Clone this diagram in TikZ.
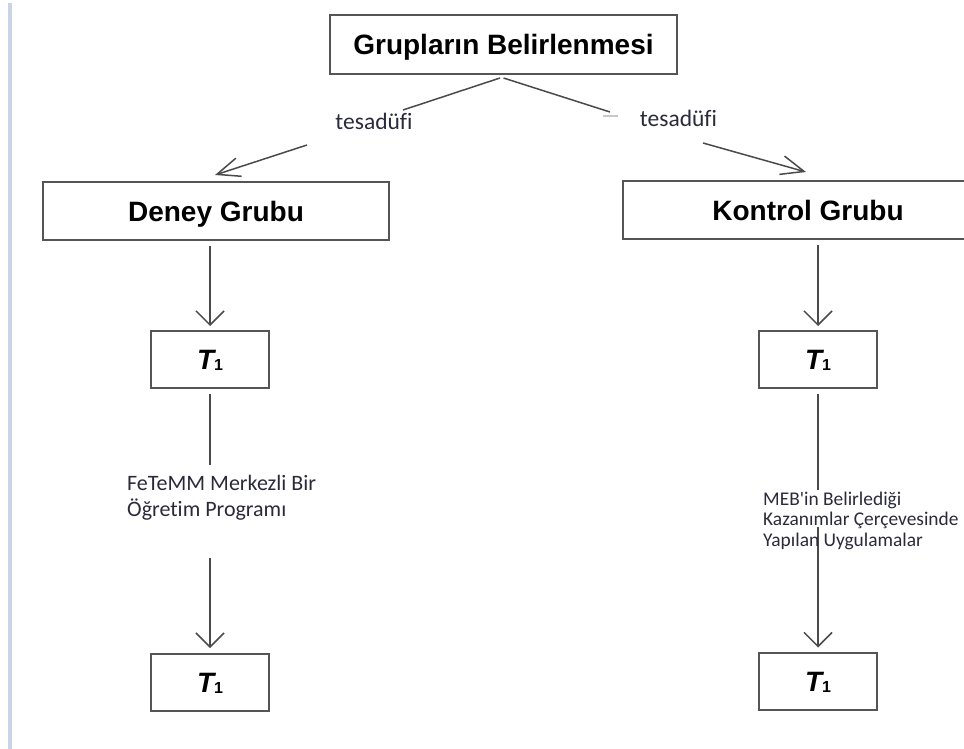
\documentclass[tikz,border=0pt]{standalone}
\usepackage{fontspec}
\setmainfont{Liberation Sans}
\newfontfamily\notefont[Ligatures=NoCommon]{Carlito}
\usetikzlibrary{arrows.meta}
\definecolor{linegray}{HTML}{4A4A4A}
\definecolor{boxgray}{HTML}{555555}
\definecolor{marginblue}{HTML}{CBD3E6}
\definecolor{notetext}{HTML}{2A2A3A}
\definecolor{faintgray}{HTML}{C8C8C8}
% T with subscript 1, as printed in the measurement boxes
\newcommand\Tsub{{\fontsize{28}{28}\selectfont\bfseries\itshape T}\raisebox{-1pt}{\fontsize{16}{16}\selectfont\bfseries 1}}
\begin{document}
\begin{tikzpicture}[x=1pt,y=-1pt,
  titlebox/.style={draw=boxgray, line width=2pt, fill=white, inner sep=0pt,
    font=\fontsize{28}{28}\selectfont\bfseries, text=black,
    text height=20pt, text depth=0pt},
  tbox/.style={draw=boxgray, line width=2pt, fill=white, minimum width=118pt,
    minimum height=57pt, inner sep=0pt, text=black,
    text height=20pt, text depth=0pt},
  conn/.style={draw=linegray, line width=1.5pt},
  downarr/.style={conn, -{Straight Barb[length=14pt,width=28pt]}},
  diagarr/.style={conn, -{Straight Barb[length=23pt,width=19pt]}},
  note/.style={font=\notefont\fontsize{22}{26}\selectfont, text=notetext,
    inner sep=0pt, align=left},
]
\useasboundingbox (0,0) rectangle (964,749);
\clip (0,0) rectangle (964,749);

% page margin rule
\draw[marginblue, line width=4pt] (9.5,3) -- (9.5,749);

% boxes
\node[titlebox, minimum width=347pt, minimum height=59pt] (top) at (503.5,44.5) {Grupların Belirlenmesi};
\node[titlebox, minimum width=346pt, minimum height=58pt] (deney) at (216,211) {Deney Grubu};
\node[titlebox, minimum width=370pt, minimum height=58pt] (kontrol) at (808,210) {Kontrol Grubu};

\node[tbox] (t1a) at (210,359.5) {\Tsub};
\node[tbox] (t1b) at (210,682.5) {\Tsub};
\node[tbox] (t1c) at (818,359.5) {\Tsub};
\node[tbox] (t1d) at (818,681) {\Tsub};

% random assignment connectors, broken around their labels
\coordinate (la) at (403,110);
\coordinate (lb) at (307,145);
\coordinate (ra) at (610,112);
\coordinate (rb) at (703,143);
\draw[conn] ([xshift=-3.5pt,yshift=-3pt]top.south) -- (la);
\draw[diagarr] (lb) -- ([xshift=-1pt,yshift=6pt]deney.north);
\draw[conn] ([yshift=-3pt]top.south) -- (ra);
\draw[diagarr] (rb) -- ([xshift=-2pt,yshift=8pt]kontrol.north);
\draw[faintgray, line width=1.5pt] (603,116) -- (618,116);

\node[note, font=\notefont\fontsize{23.5}{26}\selectfont] (randL) at (374,121) {tesadüfi};
\node[note, font=\notefont\fontsize{23.5}{26}\selectfont] (randR) at (678.5,118) {tesadüfi};

% groups to pre-tests
\draw[downarr, shorten <=5pt, shorten >=4pt] (t1a.north |- deney.south) -- (t1a.north);
\draw[downarr, shorten <=5pt, shorten >=4pt] (t1c.north |- kontrol.south) -- (t1c.north);

% experimental group treatment
\coordinate (pa) at (210,465);
\coordinate (pb) at (210,558);
\draw[conn, shorten <=5pt] (t1a.south) -- (pa);
\draw[downarr, shorten >=5pt] (pb) -- (t1b.north);
\node[note, anchor=west] (progA) at (127,498) {FeTeMM Merkezli Bir\\Öğretim Programı};

% control group treatment
\coordinate (qa) at (818,490);
\coordinate (qb) at (818,527);
\draw[conn, shorten <=5pt] (t1c.south) -- (qa);
\draw[downarr, shorten >=4pt] (qb) -- (t1d.north);
\node[note, font=\notefont\fontsize{19.4}{20.5}\selectfont, anchor=west] (progB) at (763,520.5)
  {MEB'in Belirlediği\\Kazanımlar Çerçevesinde\\Yapılan Uygulamalar};
\end{tikzpicture}
\end{document}
